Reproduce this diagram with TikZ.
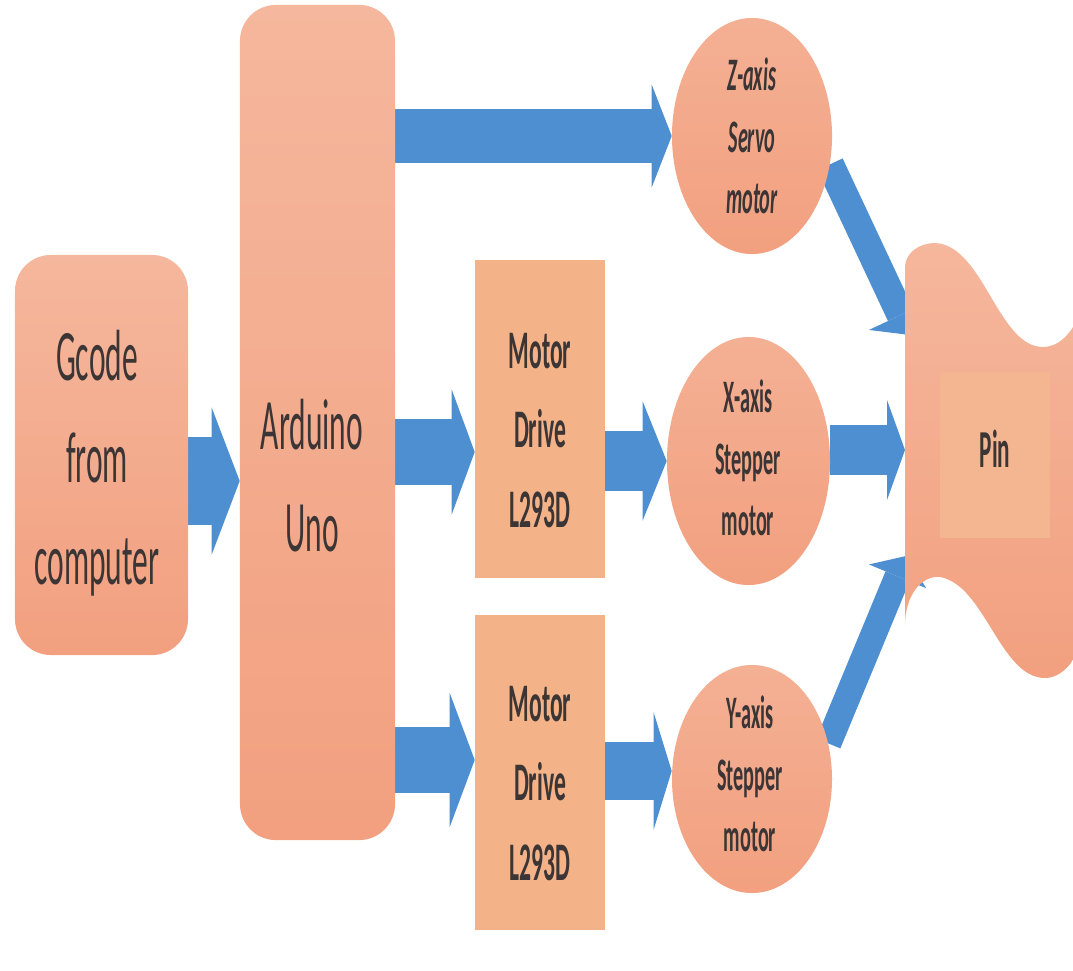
\documentclass[tikz,border=0pt]{standalone}
\usepackage{fontspec}
\setmainfont{Carlito}
\usepackage{graphicx}
\usetikzlibrary{shapes.geometric}
\usetikzlibrary{backgrounds}
\usetikzlibrary{arrows.meta}
\definecolor{salmontop}{HTML}{F5B79D}
\definecolor{salmonbottom}{HTML}{F2A07F}
\definecolor{driveorange}{HTML}{F3B287}
\definecolor{pincore}{HTML}{F3B690}
\definecolor{flowblue}{HTML}{4E8FD1}
\definecolor{labelgrey}{HTML}{3B3535}
\newcommand{\tallbox}[2]{\scalebox{1}[2.3]{#1\begin{tabular}{@{}c@{}}#2\end{tabular}}}
\tikzset{
  block/.style={rectangle,top color=salmontop,bottom color=salmonbottom,inner sep=0pt},
  drivebox/.style={rectangle,fill=driveorange,inner sep=0pt,minimum width=3.25cm},
  motor/.style={ellipse,top color=salmontop!70!salmonbottom,bottom color=salmonbottom,inner sep=0pt},
  caption/.style={text=labelgrey,inner sep=0pt},
  flow/.style n args={3}{draw=flowblue,line width=#1,-{Triangle[length=#3,width=#2,line width=0pt]}}
}

\begin{document}
\begin{tikzpicture}[x=0.025cm,y=-0.025cm]
\useasboundingbox (0,0) rectangle (1073,971);
% boxes
\node[block,rounded corners=0.9cm,minimum width=4.325cm,minimum height=10cm] (gcode) at (101.5,455) {};
\node[block,rounded corners=0.9cm,minimum width=3.875cm,minimum height=20.875cm] (arduino) at (317.5,422.5) {};
\node[drivebox,minimum height=7.95cm] (drive1) at (540,419) {};
\node[drivebox,minimum height=7.875cm] (drive2) at (540,772.5) {};
% motors
\node[motor,minimum width=4cm,minimum height=5.9cm] (zmotor) at (752,136) {};
\node[motor,minimum width=4.075cm,minimum height=6.2cm] (xmotor) at (748.5,461) {};
\node[motor,minimum width=4cm,minimum height=5.7cm] (ymotor) at (752,779) {};
% pin
\shade[top color=salmontop,bottom color=salmonbottom] (905,268) .. controls (905,250) and (925,240) .. (942,244) .. controls (985,255) and (1000,347) .. (1043,347) .. controls (1058,347) and (1068,335) .. (1073,327) -- (1073,660) .. controls (1065,672) and (1055,678) .. (1045,678) .. controls (1000,678) and (985,585) .. (940,577) .. controls (922,575) and (905,595) .. (905,625) -- cycle;
\node[rectangle,fill=pincore,inner sep=0pt,minimum width=2.75cm,minimum height=4.15cm] (pin) at (995,455) {};
\coordinate (pinz) at (910,335);
\coordinate (pinx) at (905,450);
\coordinate (piny) at (906,556);
% labels
\node[caption] (gcodetxt) at (97,462) {\tallbox{\fontsize{22.4}{31.5}\selectfont}{Gcode\\from\\computer}};
\node[caption] (arduinotxt) at (312,480) {\tallbox{\fontsize{22.4}{31.5}\selectfont}{Arduino\\Uno}};
\node[caption] (drive1txt) at (540,432) {\tallbox{\fontsize{16.8}{24.5}\selectfont\bfseries}{Motor\\Drive\\L293D}};
\node[caption] (drive2txt) at (540,785) {\tallbox{\fontsize{16.8}{24.5}\selectfont\bfseries}{Motor\\Drive\\L293D}};
\node[caption] (zmotortxt) at (752,140) {\tallbox{\fontsize{14.4}{19}\selectfont\bfseries\itshape}{Z-axis\\Servo\\motor}};
\node[caption] (xmotortxt) at (748,462) {\tallbox{\fontsize{14.4}{19}\selectfont\bfseries}{X-axis\\Stepper\\motor}};
\node[caption] (ymotortxt) at (750,778) {\tallbox{\fontsize{14.4}{19}\selectfont\bfseries}{Y-axis\\Stepper\\motor}};
\node[caption] (pintxt) at (995,455) {\tallbox{\fontsize{16.5}{20}\selectfont\bfseries}{Pin}};
% block arrows
\begin{scope}[on background layer]
\draw[flow={2.2cm}{3.675cm}{0.7cm}] (gcode.east |- 0,481) -- (arduino.west |- 0,481);
\draw[flow={1.325cm}{2.575cm}{0.5cm}] (arduino.east |- zmotor) -- (zmotor.west);
\draw[flow={1.625cm}{3.125cm}{0.575cm}] (arduino.east |- 0,452) -- (drive1.west |- 0,452);
\draw[flow={1.65cm}{3.35cm}{0.625cm}] (arduino.east |- 0,760) -- (drive2.west |- 0,760);
\draw[flow={1.5cm}{2.975cm}{0.6cm}] (drive1.east |- xmotor) -- (xmotor.west);
\draw[flow={1.425cm}{2.925cm}{0.45cm}] (drive2.east |- 0,771) -- (ymotor.west |- 0,771);
\draw[flow={1.25cm}{2.5cm}{0.45cm}] (xmotor.east |- pinx) -- (pinx);
\draw[flow={0.7cm}{1.75cm}{0.55cm}] (zmotor.-20) -- (pinz);
\draw[flow={0.65cm}{1.55cm}{0.55cm}] (ymotor.25) -- (piny);
\end{scope}
\end{tikzpicture}
\end{document}
